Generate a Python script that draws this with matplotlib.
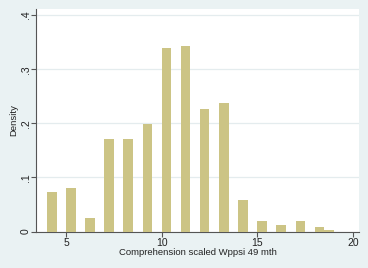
import matplotlib
matplotlib.use("Agg")
import matplotlib.pyplot as plt

plt.rcParams["font.family"] = ["Liberation Sans", "DejaVu Sans"]

# left edges of histogram bins (width 0.5) and their densities
BIN_LEFT = [4, 5, 6, 7, 8, 9, 10, 11, 12, 13, 14, 15, 16, 17, 18, 18.5]
DENSITY = [0.073, 0.080, 0.025, 0.172, 0.172, 0.198, 0.340, 0.343,
           0.226, 0.238, 0.059, 0.019, 0.013, 0.019, 0.009, 0.002]
BIN_WIDTH = 0.5

X_TICKS = [5, 10, 15, 20]
Y_TICKS = [0, 0.1, 0.2, 0.3, 0.4]
Y_TICKLABELS = ["0", ".1", ".2", ".3", ".4"]

BG = "#EAF2F3"
BAR = "#CCC485"
AXIS = "#555555"

fig = plt.figure(figsize=(3.68, 2.68), dpi=100, facecolor=BG)
ax = fig.add_axes([0.098, 0.136, 0.878, 0.829])
ax.set_facecolor("white")

ax.bar(BIN_LEFT, DENSITY, width=BIN_WIDTH, align="edge", color=BAR,
       edgecolor="none", zorder=3)

ax.set_xlim(3.43, 20.33)
ax.set_ylim(0, 0.4107)
ax.set_xticks(X_TICKS)
ax.set_xticklabels([str(t) for t in X_TICKS])
ax.set_yticks(Y_TICKS)
ax.set_yticklabels(Y_TICKLABELS, rotation=90, va="center")

ax.grid(axis="y", color="#E4ECEE", linewidth=0.9, zorder=0)
for s in ("top", "right"):
    ax.spines[s].set_visible(False)
for s in ("left", "bottom"):
    ax.spines[s].set_color(AXIS)
    ax.spines[s].set_linewidth(0.8)
ax.tick_params(axis="both", direction="out", length=3.5, width=0.8,
               color=AXIS, labelsize=7.5, labelcolor="#222222")
ax.tick_params(axis="y", pad=0.5)
ax.tick_params(axis="x", pad=1)

ax.set_xlabel("Comprehension scaled Wppsi 49 mth", fontsize=6.8,
              color="#222222", labelpad=0.5)
ax.set_ylabel("Density", fontsize=6.8, color="#222222", labelpad=1.5)

fig.savefig("out.png", dpi=100, facecolor=BG)
